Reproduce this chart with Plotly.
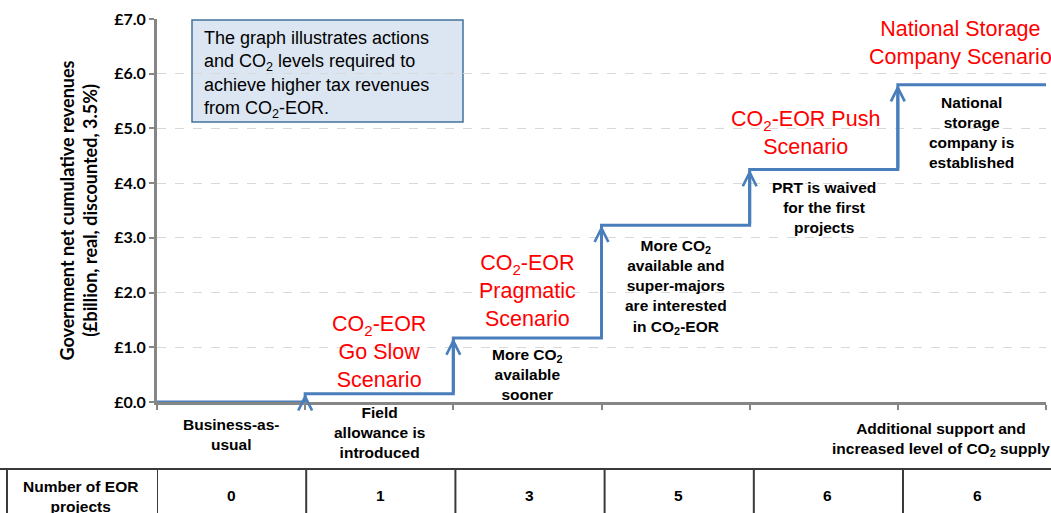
import plotly.graph_objects as go

# ---------------- data ----------------
stages = [
    "Business-as-<br>usual",
    "Field<br>allowance is<br>introduced",
    "More CO<sub>2</sub><br>available<br>sooner",
    "More CO<sub>2</sub><br>available and<br>super-majors<br>are interested<br>in CO<sub>2</sub>-EOR",
    "PRT is waived<br>for the first<br>projects",
    "National<br>storage<br>company is<br>established",
]
revenues = [0.0, 0.15, 1.17, 3.23, 4.25, 5.80]   # £bn, level reached in each stage
eor_projects = [0, 1, 3, 5, 6, 6]
scenarios = [
    "CO<sub>2</sub>-EOR<br>Go Slow<br>Scenario",
    "CO<sub>2</sub>-EOR<br>Pragmatic<br>Scenario",
    "CO<sub>2</sub>-EOR Push<br>Scenario",
    "National Storage<br>Company Scenario",
]
scenario_x = [1.5, 2.5, 4.38, 5.42]
scenario_y = [0.91, 2.03, 4.92, 6.56]
stage_label_y = [None, None, 0.51, 2.10, 3.56, 4.92]
y_ticks = [0, 1, 2, 3, 4, 5, 6, 7]
note_text = ("The graph illustrates actions<br>and CO<sub>2</sub> levels required to<br>"
             "achieve higher tax revenues<br>from CO<sub>2</sub>-EOR.")
supply_text = "Additional support and<br>increased level of CO<sub>2</sub> supply"
row_title = "Number of EOR<br>projects"

# ---------------- figure ----------------
BLUE = "#4a7ebb"
GREY = "#868686"
n = len(revenues)
xs = list(range(n + 1))
ys = revenues + [revenues[-1]]

fig = go.Figure()
fig.add_trace(go.Scatter(x=xs, y=ys, mode="lines", line=dict(color=BLUE, width=3, shape="hv"),
                         hoverinfo="skip", showlegend=False))

# arrowheads at top of each rise
for i in range(1, n):
    fig.add_annotation(x=i, y=revenues[i], ax=i, ay=revenues[i - 1], xref="x", yref="y",
                       axref="x", ayref="y", text="", showarrow=True, arrowhead=5,
                       arrowsize=0.9, arrowwidth=3, arrowcolor=BLUE)

BOLD = dict(family="Liberation Sans, Arial", size=15.5, color="black")
RED = dict(family="Liberation Sans, Arial", size=21.5, color="#ff0000")

# stage labels
below_shift = {0: -12, 1: 0}
for i, lab in enumerate(stages):
    if stage_label_y[i] is None:
        fig.add_annotation(x=i + 0.5, y=0, xref="x", yref="y", yanchor="top",
                           yshift=below_shift[i], text="<b>" + lab + "</b>",
                           showarrow=False, font=BOLD)
    else:
        fig.add_annotation(x=i + 0.5, y=stage_label_y[i], xref="x", yref="y",
                           xanchor="center", yanchor="middle",
                           text="<b>" + lab + "</b>", showarrow=False, font=BOLD)

# scenario labels
for s, sx, sy in zip(scenarios, scenario_x, scenario_y):
    fig.add_annotation(x=sx, y=sy, xref="x", yref="y", xanchor="center",
                       yanchor="middle", text=s, showarrow=False, font=RED)

# additional support label
fig.add_annotation(x=6, y=0, xref="x", yref="y", xanchor="right", yanchor="top",
                   xshift=6, yshift=-16, text="<b>" + supply_text + "</b>",
                   showarrow=False, font=BOLD)

# note box
fig.add_shape(type="rect", xref="paper", yref="paper",
              x0=(192 - 157) / 889, x1=(463 - 157) / 889,
              y0=(402 - 122) / 383, y1=(402 - 20) / 383,
              fillcolor="#dce6f2", line=dict(color="#41719c", width=1.5), layer="below")
fig.add_annotation(x=(202 - 157) / 889, y=(402 - 26) / 383, xref="paper", yref="paper",
                   xanchor="left", yanchor="top", align="left", text=note_text,
                   showarrow=False,
                   font=dict(family="Liberation Sans, Arial", size=18, color="black"))

# table
TBL = "#3a3a3a"
ytop = -(469 - 402) / 383
fig.add_shape(type="line", xref="paper", yref="paper", x0=-0.2, x1=1.1, y0=ytop, y1=ytop,
              line=dict(color=TBL, width=2))
fig.add_shape(type="line", xref="paper", yref="paper", x0=(7 - 157) / 889, x1=(7 - 157) / 889,
              y0=ytop, y1=-0.4, line=dict(color=TBL, width=2))
for i in range(n):
    fig.add_shape(type="line", xref="x", yref="paper", x0=i + 0.007 * i, x1=i + 0.007 * i,
                  y0=ytop, y1=-0.4, line=dict(color=TBL, width=2))
for i, v in enumerate(eor_projects):
    fig.add_annotation(x=i + 0.5 + 0.007 * i, y=-(495 - 402) / 383, xref="x", yref="paper",
                       xanchor="center", yanchor="middle",
                       text="<b>%d</b>" % v, showarrow=False, font=BOLD)
fig.add_annotation(x=(80 - 157) / 889, y=-(496 - 402) / 383, xref="paper", yref="paper",
                   xanchor="center", yanchor="middle",
                   text="<b>" + row_title + "</b>", showarrow=False, font=BOLD)

fig.update_layout(
    width=1051, height=513,
    margin=dict(l=157, r=5, t=19, b=111),
    plot_bgcolor="white", paper_bgcolor="white",
    xaxis=dict(range=[0, n], tickvals=xs, showticklabels=False, ticks="outside", ticklen=5,
               tickwidth=2, tickcolor=GREY, showline=True, linecolor=GREY, linewidth=3,
               showgrid=False, zeroline=False, fixedrange=True),
    yaxis=dict(range=[0, 7], tickvals=y_ticks, ticktext=["£%.1f" % v for v in y_ticks],
               ticks="outside", ticklen=5, tickwidth=2, tickcolor=GREY,
               showline=True, linecolor=GREY, linewidth=3,
               showgrid=True, gridcolor="#d9d9d9", griddash="dash", gridwidth=1,
               zeroline=False,
               tickfont=dict(family="Lato", size=16, color="black", weight="bold"),
               title=dict(text="Government net cumulative revenues<br>(£billion, real, discounted, 3.5%)",
                          font=dict(family="Lato", size=18, color="black", weight="bold"),
                          standoff=12)),
)

fig.write_html("out.html", config={"displayModeBar": False},
               post_script="document.body.style.margin='0';")
